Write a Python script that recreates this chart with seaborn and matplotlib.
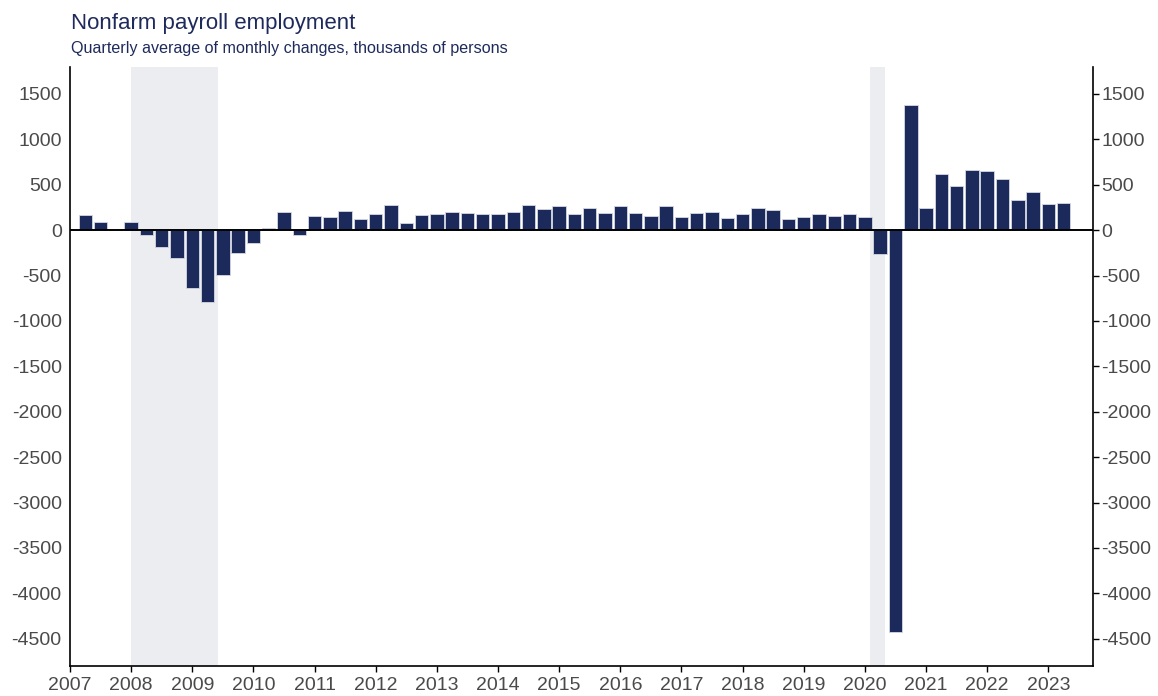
import pandas as pd
import matplotlib.pyplot as plt
import seaborn as sns

# Quarterly average of monthly payroll changes (thousands), 2007Q1 - 2023Q1
trimestres = pd.period_range("2007Q1", "2023Q1", freq="Q")
cambios = [172, 92, 5, 95,
           -50, -183, -311, -637,
           -791, -495, -256, -139,
           20, 205, -58, 161,
           143, 216, 128, 183,
           282, 84, 165, 183,
           198, 194, 179, 179,
           205, 282, 238, 264,
           183, 249, 190, 271,
           194, 157, 264, 143,
           187, 198, 132, 176,
           249, 227, 124, 143,
           176, 157, 176, 147,
           -265, -4430, 1375, 242,
           619, 487, 663, 656,
           560, 333, 425, 289,
           297]

# Recession periods (start month, end month)
recesiones = [("2008-01", "2009-06"), ("2020-02", "2020-05")]

anios = list(range(2007, 2024))
ticks_y = list(range(-4500, 1501, 500))

azul = "#1b2a5a"


def mes_a_anio(m):
    p = pd.Period(m, freq="M")
    return p.year + (p.month - 1) / 12


# Bars sit at the end of each quarter
df = pd.DataFrame({"fecha": [q.year + q.quarter / 4 for q in trimestres],
                   "cambio": cambios})

sns.set_style("white")
plt.rcParams["font.family"] = ["Liberation Sans", "DejaVu Sans"]
plt.rcParams["axes.unicode_minus"] = False

fig = plt.figure(figsize=(11.58, 6.96), dpi=100)
ax = fig.add_axes([70 / 1158, 1 - 666 / 696, (1093 - 70) / 1158, (666 - 66.7) / 696])

# Shaded recessions
for ini, fin in recesiones:
    ax.axvspan(mes_a_anio(ini), mes_a_anio(fin), color="#ebedf0", lw=0, zorder=0)

sns.barplot(data=df, x="fecha", y="cambio", native_scale=True, color=azul,
            saturation=1, width=0.88, edgecolor="#d5d8e2", linewidth=0.6,
            ax=ax, zorder=2)

ax.axhline(0, color="black", lw=1.4, zorder=3)

ax.set_xlim(2007, 2023.73)
ax.set_ylim(-4800, 1800)
ax.set_xticks(anios)
ax.set_xticklabels([str(a) for a in anios])
ax.set_yticks(ticks_y)
ax.set_xlabel("")
ax.set_ylabel("")

ax.tick_params(axis="both", direction="out", length=4, width=1, color="black",
               labelcolor="#4a4a4a", labelsize=14, pad=2)
ax.tick_params(axis="y", right=True, labelright=True)
ax.tick_params(axis="x", bottom=True, pad=4)

for lado in ["left", "right", "bottom"]:
    ax.spines[lado].set_visible(True)
    ax.spines[lado].set_color("black")
    ax.spines[lado].set_linewidth(1.2)
ax.spines["top"].set_visible(False)

fig.text(71 / 1158, 1 - 29 / 696, "Nonfarm payroll employment",
         fontsize=16, color="#1f2a5c", va="baseline")
fig.text(71 / 1158, 1 - 53 / 696, "Quarterly average of monthly changes, thousands of persons",
         fontsize=11.6, color="#1f2a5c", va="baseline")

fig.savefig("out.png", dpi=100)
